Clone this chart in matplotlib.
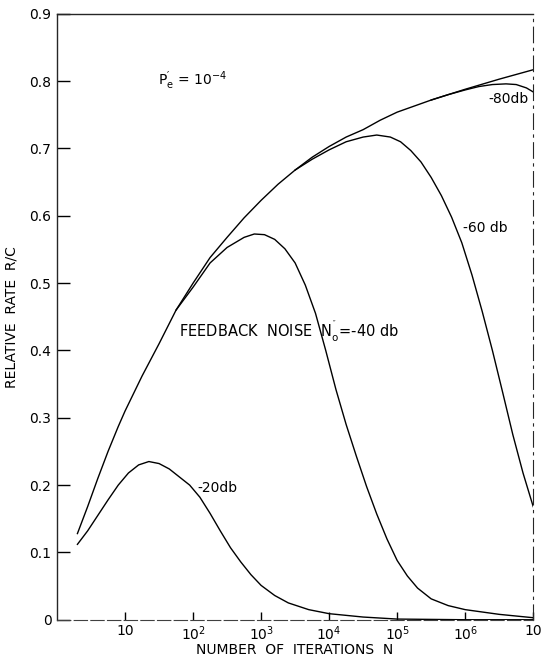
import numpy as np
import matplotlib.pyplot as plt

plt.rcParams['font.family'] = ['DejaVu Sans']
plt.rcParams['mathtext.default'] = 'regular'

# curves: exponent of N (log10 N) and relative rate R/C
env_exp = [0.30, 0.45, 0.6, 0.75, 0.9, 1.0, 1.25, 1.5, 1.75, 2.0, 2.25, 2.5, 2.75, 3.0, 3.25,
           3.5, 3.75, 4.0, 4.25, 4.5, 4.75, 5.0, 5.5, 6.0, 6.5, 7.0]
env_rate = [0.128, 0.168, 0.21, 0.25, 0.287, 0.31, 0.362, 0.41, 0.46, 0.50, 0.538, 0.568, 0.597,
            0.623, 0.647, 0.668, 0.687, 0.703, 0.717, 0.728, 0.742, 0.754, 0.772, 0.788, 0.803, 0.817]

db20_exp = [0.30, 0.45, 0.6, 0.75, 0.9, 1.05, 1.2, 1.35, 1.5, 1.65, 1.8, 1.95, 2.1, 2.25, 2.4,
            2.55, 2.7, 2.85, 3.0, 3.2, 3.4, 3.7, 4.0, 4.5, 5.0, 6.0, 7.0]
db20_rate = [0.112, 0.132, 0.155, 0.178, 0.200, 0.218, 0.230, 0.235, 0.232, 0.224, 0.212, 0.200,
             0.182, 0.158, 0.132, 0.107, 0.086, 0.067, 0.051, 0.036, 0.025, 0.015, 0.009, 0.004,
             0.001, 0.0, 0.0]

db40_exp = [1.75, 2.0, 2.25, 2.5, 2.75, 2.9, 3.05, 3.2, 3.35, 3.5, 3.65, 3.8, 3.95, 4.1, 4.25,
            4.4, 4.55, 4.7, 4.85, 5.0, 5.15, 5.3, 5.5, 5.75, 6.0, 6.5, 7.0]
db40_rate = [0.460, 0.494, 0.530, 0.553, 0.568, 0.573, 0.572, 0.565, 0.551, 0.530, 0.497, 0.455,
             0.400, 0.342, 0.290, 0.243, 0.198, 0.157, 0.120, 0.088, 0.065, 0.047, 0.031, 0.021,
             0.015, 0.008, 0.003]

db60_exp = [3.5, 3.75, 4.0, 4.25, 4.5, 4.7, 4.9, 5.05, 5.2, 5.35, 5.5, 5.65, 5.8, 5.95, 6.1,
            6.25, 6.4, 6.55, 6.7, 6.85, 7.0]
db60_rate = [0.668, 0.684, 0.698, 0.710, 0.717, 0.720, 0.717, 0.710, 0.697, 0.680, 0.657, 0.630,
             0.598, 0.560, 0.512, 0.458, 0.400, 0.338, 0.275, 0.218, 0.168]

db80_exp = [5.5, 5.75, 6.0, 6.2, 6.4, 6.6, 6.75, 6.9, 7.0]
db80_rate = [0.772, 0.780, 0.787, 0.792, 0.795, 0.796, 0.795, 0.790, 0.784]

x_ticks = [1e1, 1e2, 1e3, 1e4, 1e5, 1e6, 1e7]
x_labels = ['10', '$10^2$', '$10^3$', '$10^4$', '$10^5$', '$10^6$', '10']
y_ticks = [0, 0.1, 0.2, 0.3, 0.4, 0.5, 0.6, 0.7, 0.8, 0.9]
y_labels = ['0', '0.1', '0.2', '0.3', '0.4', '0.5', '0.6', '0.7', '0.8', '0.9']

fig = plt.figure(figsize=(5.43, 6.60), dpi=100)
ax = fig.add_axes([0.105, 0.061, 0.877, 0.918])

for e, r in [(env_exp, env_rate), (db20_exp, db20_rate), (db40_exp, db40_rate),
             (db60_exp, db60_rate), (db80_exp, db80_rate)]:
    ax.plot(10 ** np.array(e), r, color='black', lw=1.0)

ax.set_xscale('log')
ax.set_xlim(1, 1e7)
ax.set_ylim(0, 0.9)
ax.minorticks_off()
ax.set_xticks(x_ticks)
ax.set_xticklabels(x_labels)
ax.set_yticks(y_ticks)
ax.set_yticklabels(y_labels)
ax.tick_params(axis='y', direction='in', length=9, width=1, labelsize=10, pad=4)
ax.tick_params(axis='x', direction='in', length=6, width=1, labelsize=10, pad=3)

ax.set_xlabel('NUMBER  OF  ITERATIONS  N', fontsize=10, labelpad=0)
ax.set_ylabel('RELATIVE  RATE  R/C', fontsize=10, labelpad=8)

# scanned-looking frame
for s in ['left', 'top']:
    ax.spines[s].set_color('0.15')
    ax.spines[s].set_linewidth(1.0)
ax.spines['bottom'].set_color('0.25')
ax.spines['bottom'].set_linestyle((0, (12, 3)))
ax.spines['right'].set_color('0.15')
ax.spines['right'].set_linestyle((0, (14, 5, 2, 5)))

# annotations
ax.text(10 ** 1.49, 0.80, r"$P_e^{\prime}$ = 10$^{-4}$", fontsize=10, va='center', ha='left')
ax.text(10 ** 1.80, 0.428, r"FEEDBACK  NOISE  $N_o^{''}$=-40 db", fontsize=10.5,
        va='center', ha='left')
ax.text(10 ** 2.07, 0.196, '-20db', fontsize=10, va='center', ha='left')
ax.text(10 ** 5.97, 0.582, '-60 db', fontsize=10, va='center', ha='left')
ax.text(10 ** 6.34, 0.774, '-80db', fontsize=10, va='center', ha='left')

fig.savefig('out.png', dpi=100)
